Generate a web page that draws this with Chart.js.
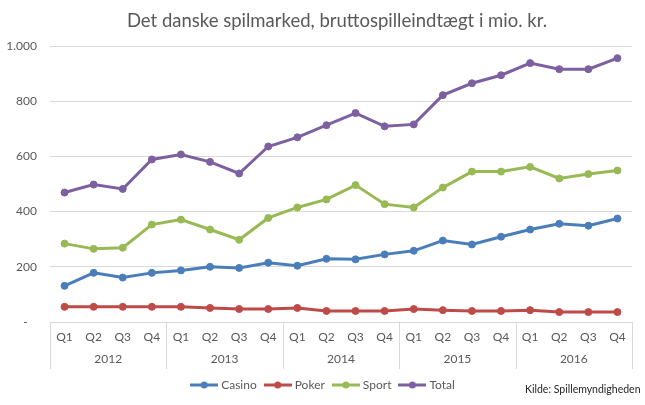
<!DOCTYPE html>
<html>
<head>
<meta charset="utf-8">
<script src="https://cdn.jsdelivr.net/npm/chart.js@4.4.0/dist/chart.umd.min.js"></script>
<style>
html, body { margin: 0; padding: 0; background: #fff; }
#wrap { position: relative; width: 645px; height: 405px; }
</style>
</head>
<body>
<div id="wrap"><canvas id="chart"></canvas></div>
<script>
const quarters = ['Q1','Q2','Q3','Q4','Q1','Q2','Q3','Q4','Q1','Q2','Q3','Q4','Q1','Q2','Q3','Q4','Q1','Q2','Q3','Q4'];
const years = ['2012', '2013', '2014', '2015', '2016'];
const casino = [131, 178, 161, 178, 187, 200, 196, 215, 204, 229, 227, 245, 258, 295, 281, 309, 335, 356, 349, 375];
const poker = [55, 55, 55, 55, 55, 51, 47, 47, 51, 40, 40, 40, 47, 43, 40, 40, 43, 36, 36, 36];
const sport = [284, 265, 269, 353, 371, 335, 298, 377, 415, 444, 496, 427, 415, 487, 545, 545, 562, 520, 536, 549];
const total = [469, 498, 482, 589, 607, 580, 538, 636, 669, 713, 757, 709, 716, 822, 865, 894, 938, 916, 916, 956];
const seriesNames = ['Casino', 'Poker', 'Sport', 'Total'];
const seriesColors = ['#4a7ebb', '#be4b48', '#98b954', '#7d60a0'];
const titleText = 'Det danske spilmarked, bruttospilleindtægt i mio. kr.';
const sourceText = 'Kilde: Spillemyndigheden';

const FONT = 'Lato';
const GREY = '#595959';
const LINE = '#d9d9d9';

// little line+dot icons for the legend, like Excel draws them
function legendIcon(color) {
    const c = document.createElement('canvas');
    c.width = 28; c.height = 8;
    const g = c.getContext('2d');
    g.strokeStyle = color; g.lineWidth = 3;
    g.beginPath(); g.moveTo(0, 4); g.lineTo(28, 4); g.stroke();
    g.fillStyle = color;
    g.beginPath(); g.arc(14, 4, 3.5, 0, Math.PI * 2); g.fill();
    return c;
}
const icons = seriesColors.map(legendIcon);

const extras = {
    id: 'extras',
    afterLayout(chart) {
        // nudge legend a bit right, the Excel one sits off-centre
        chart.legend.left += 6;
        chart.legend.right += 6;
    },
    afterDraw(chart) {
        const ctx = chart.ctx, x = chart.scales.x, area = chart.chartArea;
        const half = (x.getPixelForValue(1) - x.getPixelForValue(0)) / 2;
        const top = area.bottom, bottom = area.bottom + 47;
        ctx.save();
        ctx.strokeStyle = LINE; ctx.lineWidth = 1;
        ctx.beginPath();
        for (let i = 0; i <= years.length; i++) {
            const px = i < years.length ? x.getPixelForValue(i * 4) - half : x.getPixelForValue(quarters.length - 1) + half;
            const rx = Math.round(px) + 0.5;
            ctx.moveTo(rx, top); ctx.lineTo(rx, bottom);
        }
        ctx.stroke();
        ctx.fillStyle = GREY;
        ctx.font = '12px ' + FONT;
        ctx.textAlign = 'center'; ctx.textBaseline = 'middle';
        years.forEach((y, i) => {
            const cx = (x.getPixelForValue(i * 4) + x.getPixelForValue(i * 4 + 3)) / 2;
            ctx.fillText(y, cx, 359);
        });
        // title
        ctx.font = '18.5px ' + FONT;
        ctx.fillText(titleText, 337, 21);
        // source
        ctx.fillStyle = '#262626';
        ctx.font = '10.5px ' + FONT;
        ctx.textAlign = 'left';
        ctx.fillText(sourceText, 525, 390);
        ctx.restore();
    }
};

const datasets = [casino, poker, sport, total].map((d, i) => ({
    label: seriesNames[i],
    data: d,
    borderColor: seriesColors[i],
    backgroundColor: seriesColors[i],
    borderWidth: 3,
    pointRadius: 3.5,
    pointBorderWidth: 1,
    tension: 0
}));

new Chart(document.getElementById('chart'), {
    type: 'line',
    data: { labels: quarters, datasets },
    plugins: [extras],
    options: {
        responsive: true,
        maintainAspectRatio: false,
        animation: false,
        layout: { padding: { left: 4, right: 13, top: 46, bottom: 4 } },
        plugins: {
            title: { display: false },
            tooltip: { enabled: false },
            legend: {
                position: 'bottom',
                labels: {
                    color: GREY,
                    font: { family: FONT, size: 12 },
                    usePointStyle: true,
                    pointStyleWidth: 22,
                    padding: 10,
                    generateLabels(chart) {
                        const items = Chart.defaults.plugins.legend.labels.generateLabels(chart);
                        items.forEach((it, i) => { it.pointStyle = icons[i]; });
                        return items;
                    }
                }
            }
        },
        scales: {
            x: {
                offset: true,
                grid: { display: false, drawTicks: false },
                border: { display: true, color: LINE },
                ticks: { color: GREY, font: { family: FONT, size: 12 }, padding: 8, maxRotation: 0, autoSkip: false },
                afterFit(s) { s.height = 47; }
            },
            y: {
                min: 0,
                max: 1000,
                grid: { color: LINE, drawTicks: false },
                border: { display: false },
                ticks: {
                    stepSize: 200,
                    color: GREY,
                    font: { family: FONT, size: 12 },
                    padding: 13,
                    callback: v => v === 0 ? '-   ' : String(v).replace(/\B(?=(\d{3})+(?!\d))/g, '.')
                },
                afterFit(s) { s.width = 46; }
            }
        }
    }
});
</script>
</body>
</html>
